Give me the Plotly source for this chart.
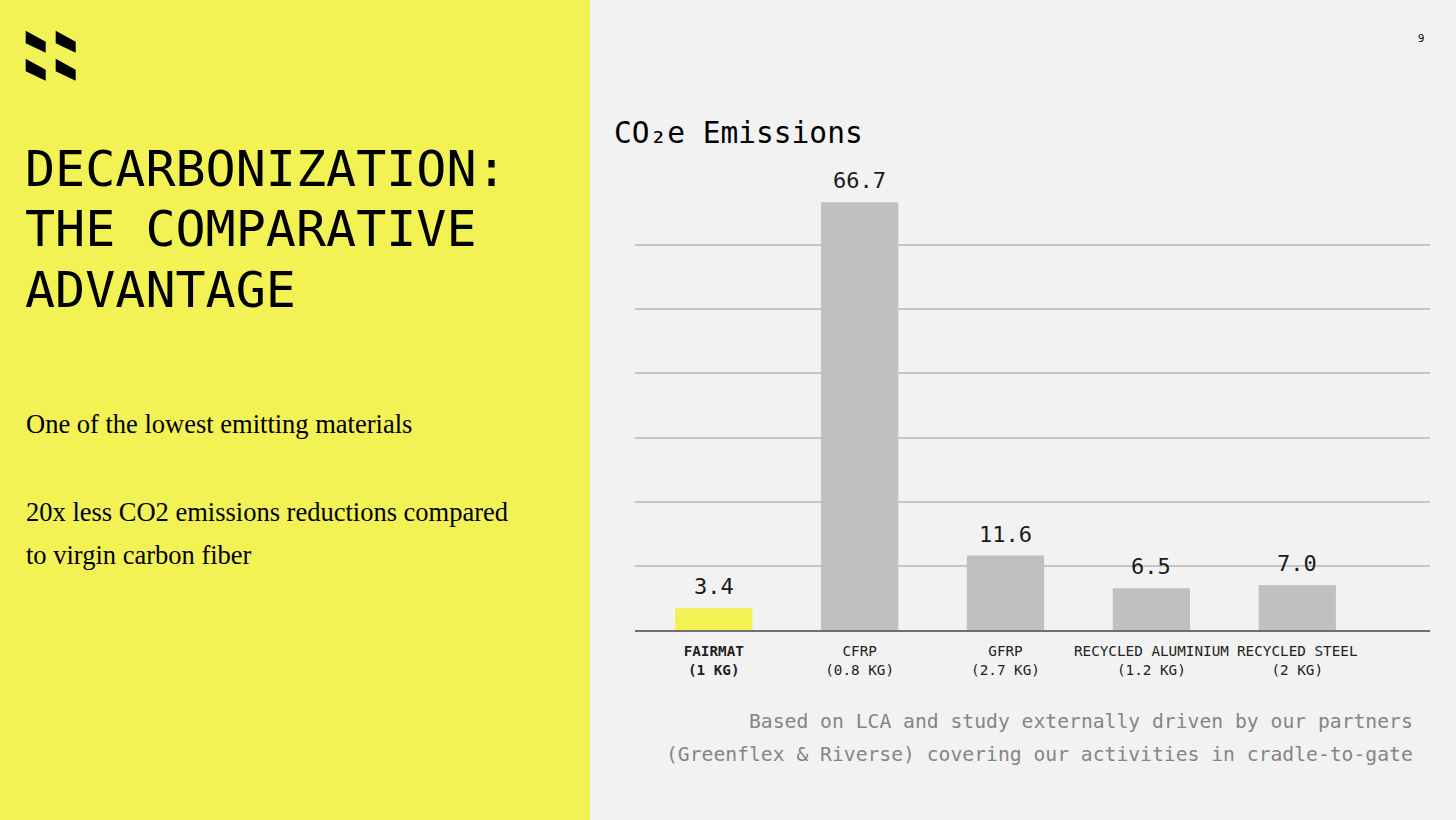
import plotly.graph_objects as go

# ---- data ----
categories = [
    "<b>FAIRMAT</b><br><b>(1 KG)</b>",
    "CFRP<br>(0.8 KG)",
    "GFRP<br>(2.7 KG)",
    "RECYCLED ALUMINIUM<br>(1.2 KG)",
    "RECYCLED STEEL<br>(2 KG)",
]
emissions = [3.4, 66.7, 11.6, 6.5, 7.0]
value_labels = ["3.4", "66.7", "11.6", "6.5", "7.0"]
grid_values = [0, 10, 20, 30, 40, 50, 60]

# ---- styles ----
YELLOW = "#F3F254"
GREY_BAR = "#C0C0C0"
BG = "#F2F2F2"
MONO = "DejaVu Sans Mono"
SERIF = "Liberation Serif"

bar_colors = [YELLOW] + [GREY_BAR] * (len(categories) - 1)

W, H = 1456, 820

def px(x):
    return x / W

def py(y):
    return 1 - y / H

fig = go.Figure()
fig.add_trace(go.Bar(
    x=categories,
    y=emissions,
    marker=dict(color=bar_colors, line=dict(width=0)),
    hoverinfo="skip",
))

shapes = [
    # yellow left panel
    dict(type="rect", xref="paper", yref="paper", x0=0, x1=px(590), y0=0, y1=1,
         fillcolor=YELLOW, line=dict(width=0), layer="below"),
]

# logo: four parallelograms
def para(x0, y0):
    pts = [(x0, y0), (x0 + 20, y0 + 11), (x0 + 20, y0 + 22), (x0, y0 + 12.6)]
    path = "M " + " L ".join(f"{px(a):.5f},{py(b):.5f}" for a, b in pts) + " Z"
    return dict(type="path", xref="paper", yref="paper", path=path,
                fillcolor="#000000", line=dict(width=0))

for dx in (0, 30):
    for dy in (0, 28):
        shapes.append(para(25.7 + dx, 30.7 + dy))

annotations = []
def ann(text, x, y, size, family, color="#000000", xanchor="left", yanchor="middle"):
    annotations.append(dict(text=text, x=px(x), y=py(y), xref="paper", yref="paper",
                            xanchor=xanchor, yanchor=yanchor, showarrow=False,
                            font=dict(family=family, size=size, color=color)))

# value labels, positioned through the data axes
for cat, val, lab in zip(categories, emissions, value_labels):
    annotations.append(dict(text=lab, x=cat, y=val, xref="x", yref="y",
                            xanchor="center", yanchor="bottom", yshift=7,
                            showarrow=False,
                            font=dict(family=MONO, size=22, color="#1a1a1a")))

ann("DECARBONIZATION:", 23, 169, 50, MONO)
ann("THE COMPARATIVE", 23, 229, 50, MONO)
ann("ADVANTAGE", 23, 290, 50, MONO)

ann("One of the lowest emitting materials", 24, 424, 26.5, SERIF)
ann("20x less CO2 emissions reductions compared", 24, 512, 26.5, SERIF)
ann("to virgin carbon fiber", 24, 555, 26.5, SERIF)

ann("CO₂e Emissions", 612, 133, 29.5, MONO)
ann("9", 1421, 38, 10, "DejaVu Sans", xanchor="center")

ann("Based on LCA and study externally driven by our partners", 1415, 721, 19.7, MONO,
    color="#858585", xanchor="right")
ann("(Greenflex &amp; Riverse) covering our activities in cradle-to-gate", 1415, 754, 19.7, MONO,
    color="#858585", xanchor="right")

fig.update_layout(
    width=W, height=H,
    margin=dict(l=0, r=0, t=0, b=0),
    paper_bgcolor=BG,
    plot_bgcolor="rgba(0,0,0,0)",
    showlegend=False,
    bargap=0.47,
    shapes=shapes,
    annotations=annotations,
    xaxis=dict(
        domain=[px(635), px(1430)],
        range=[-0.54, 4.91],
        showgrid=False,
        showline=True, linecolor="#6f6f6f", linewidth=2,
        ticks="", ticklabelstandoff=7,
        tickfont=dict(family=MONO, size=14.3, color="#222222"),
        fixedrange=True,
    ),
    yaxis=dict(
        domain=[py(630), py(181)],
        range=[0, 70],
        tickvals=grid_values,
        showticklabels=False,
        showgrid=True, gridcolor="#C6C6C6", gridwidth=1.5,
        zeroline=False,
        fixedrange=True,
    ),
)

fig.write_html(
    "out.html",
    config={"displayModeBar": False},
    post_script="document.body.style.margin='0';document.body.style.overflow='hidden';",
)
